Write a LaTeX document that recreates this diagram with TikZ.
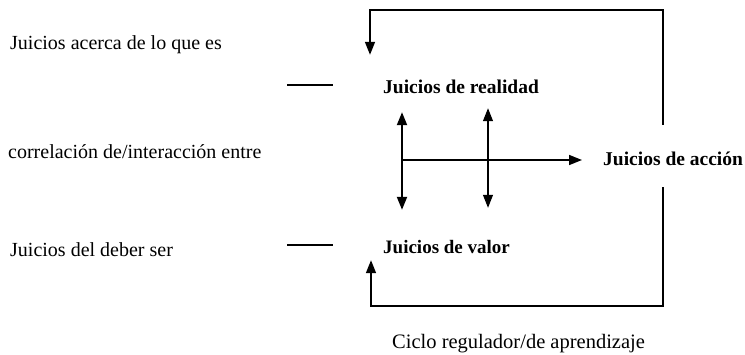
\documentclass[tikz,border=0pt]{standalone}
\usepackage{fontspec}
\setmainfont{Liberation Serif}
\usepackage{tikz}
\usetikzlibrary{arrows.meta, positioning, calc}

\begin{document}
\begin{tikzpicture}[
  x=1pt, y=-1pt,
  >={Triangle[length=13pt, width=10pt]},
  judgebox/.style={inner sep=0pt, anchor=base west, text height=14pt, text depth=4pt, font=\fontsize{19.5}{22}\selectfont\bfseries},
  sidelabel/.style={inner sep=0pt, anchor=base west, text height=14pt, text depth=4pt, font=\fontsize{20}{24}\selectfont},
  cycleline/.style={line width=1.6pt},
  tickline/.style={line width=1.4pt},
]
\useasboundingbox (0,0) rectangle (745,354);

% Left-hand labels
\node[sidelabel] (quees) at (10,49) {Juicios acerca de lo que es};
\node[sidelabel] (correl) at (8,158) {correlación de/interacción entre};
\node[sidelabel] (deber) at (10,256) {Juicios del deber ser};

% Judgement nodes
\node[judgebox] (realidad) at (383,93) {Juicios de realidad};
\node[judgebox, font=\fontsize{19}{22}\selectfont\bfseries] (valor) at (383,253) {Juicios de valor};
\node[judgebox] (accion) at (603,165) {Juicios de acción};

% Cycle label
\node[sidelabel, font=\fontsize{20.5}{24}\selectfont] (ciclo) at (392,348) {Ciclo regulador/de aprendizaje};
\coordinate (cycletop) at (0,10);
\coordinate (cyclebot) at (0,306);

% Short ticks pointing at the judgements
\draw[tickline] ([shift={(-96pt,3pt)}]realidad.west) -- ([shift={(-50pt,3pt)}]realidad.west);
\draw[tickline] ([shift={(-96pt,3pt)}]valor.west) -- ([shift={(-50pt,3pt)}]valor.west);

% Interaction arrows
\draw[<->, line width=2pt, shorten <=15pt, shorten >=29pt] ([xshift=19pt]realidad.south west) -- ([xshift=19pt]valor.north west);
\draw[<->, line width=1.2pt, shorten <=11pt, shorten >=31pt] ([xshift=105pt]realidad.south west) -- ([xshift=105pt]valor.north west);
\draw[->, line width=1.6pt, shorten >=21pt] ([xshift=19pt]realidad.south west |- accion.west) -- (accion.west);

% Regulating cycle
\draw[->, cycleline, shorten <=26pt, shorten >=24pt] ([xshift=60pt]accion.north west) -- ([xshift=60pt]accion.north west |- cycletop) -| ([xshift=-13pt]realidad.north west);
\draw[->, cycleline, shorten <=18pt, shorten >=3pt] ([xshift=60pt]accion.south west) -- ([xshift=60pt]accion.south west |- cyclebot) -| ([xshift=-12pt]valor.south west);

\end{tikzpicture}
\end{document}
